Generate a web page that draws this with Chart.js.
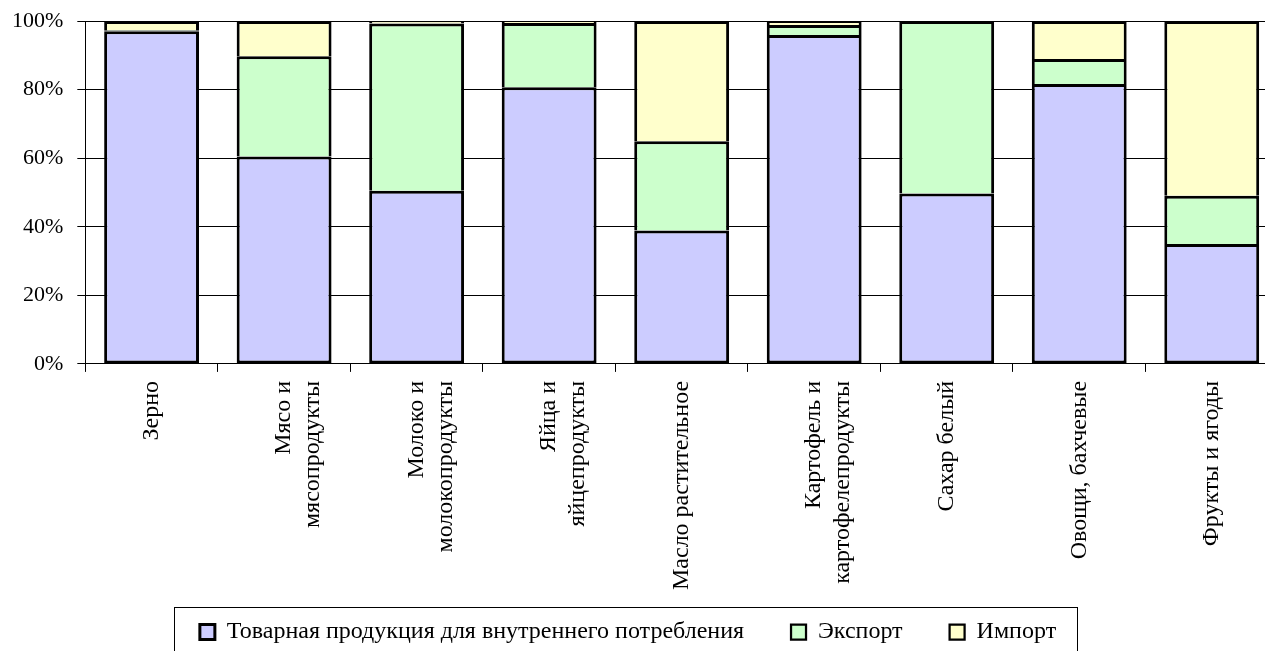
<!DOCTYPE html>
<html>
<head>
<meta charset="utf-8">
<script src="https://cdn.jsdelivr.net/npm/chart.js@4/dist/chart.umd.min.js"></script>
<style>
    html, body { margin: 0; padding: 0; background: #fff; overflow: hidden; }
    #wrap { width: 1290px; height: 654px; }
</style>
</head>
<body>
<div id="wrap"><canvas id="shareChart" width="1290" height="654"></canvas></div>
<script>
const categories = [
    ['Зерно'],
    ['Мясо и', 'мясопродукты'],
    ['Молоко и', 'молокопродукты'],
    ['Яйца и', 'яйцепродукты'],
    ['Масло растительное'],
    ['Картофель и', 'картофелепродукты'],
    ['Сахар белый'],
    ['Овощи, бахчевые'],
    ['Фрукты и ягоды']
];
const seriesNames = ['Товарная продукция для внутреннего потребления', 'Экспорт', 'Импорт'];
const domestic = [97.0, 60.5, 50.5, 80.7, 38.9, 95.9, 49.7, 81.6, 35.0];
const exported = [0.3, 29.2, 48.8, 18.7, 26.0, 2.9, 50.3, 7.3, 14.0];
const imported = [2.7, 10.3, 0.7, 0.6, 35.1, 1.2, 0, 11.1, 51.0];
const yTicks = [0, 20, 40, 60, 80, 100];

const colors = ['#ccccff', '#ccffcc', '#ffffcc'];

Chart.defaults.font.family = "'Liberation Serif', 'Times New Roman', serif";
Chart.defaults.font.size = 24;
Chart.defaults.color = '#000';

// рамка вокруг легенды, как в Excel
const legendFrame = {
    id: 'legendFrame',
    afterLayout(chart) {
        // подписи оси X могут заходить в пустой отступ легенды
        chart.scales.x.bottom += 40;
        chart.legend.left -= 10;
        chart.legend.right -= 10;
    },
    afterDraw(chart) {
        const hb = chart.legend.legendHitBoxes;
        if (!hb || !hb.length) return;
        const last = hb[hb.length - 1];
        const x0 = hb[0].left - 26, x1 = last.left + last.width + 21;
        const cy = hb[0].top + hb[0].height / 2;
        const ctx = chart.ctx;
        ctx.save();
        ctx.strokeStyle = '#000';
        ctx.lineWidth = 1;
        ctx.strokeRect(Math.round(x0) + 0.5, Math.round(cy - 25) + 0.5, Math.round(x1 - x0), 60);
        ctx.restore();
    }
};

// нижний сегмент с рамкой со всех сторон, верхние - без нижней (чтобы линии не удваивались)
const mk = (i, data) => ({
    label: seriesNames[i], data,
    backgroundColor: colors[i], borderColor: '#000',
    borderWidth: i === 0 ? 3 : { top: 3, left: 3, right: 3, bottom: 0 },
    borderSkipped: false, categoryPercentage: 1, barPercentage: 0.716
});

new Chart(document.getElementById('shareChart'), {
    type: 'bar',
    data: { labels: categories, datasets: [mk(0, domestic), mk(1, exported), mk(2, imported)] },
    options: {
        responsive: false, animation: false, devicePixelRatio: 1,
        layout: { padding: { top: 2, left: -2, right: 12, bottom: 0 } },
        scales: {
            x: {
                stacked: true,
                grid: { drawOnChartArea: false, drawTicks: true, tickLength: 8, color: '#000', offset: true },
                border: { color: '#000' },
                ticks: { autoSkip: false, minRotation: 90, maxRotation: 90, padding: 9 },
                afterFit: s => { s.height -= 26; s.paddingLeft = 0; }
            },
            y: {
                stacked: true, min: 0, max: 100,
                afterBuildTicks: s => { s.ticks = yTicks.map(v => ({ value: v })); },
                grid: { color: '#000', tickLength: 8 },
                border: { color: '#000' },
                ticks: { padding: 14, font: { size: 22 }, callback: v => v + '%' },
                afterFit: s => { s.paddingTop = 21; }
            }
        },
        plugins: {
            legend: {
                position: 'bottom',
                labels: { boxWidth: 15, boxHeight: 15, padding: 47, font: { size: 24 } }
            },
            tooltip: { enabled: false }
        }
    },
    plugins: [legendFrame]
});
</script>
</body>
</html>
